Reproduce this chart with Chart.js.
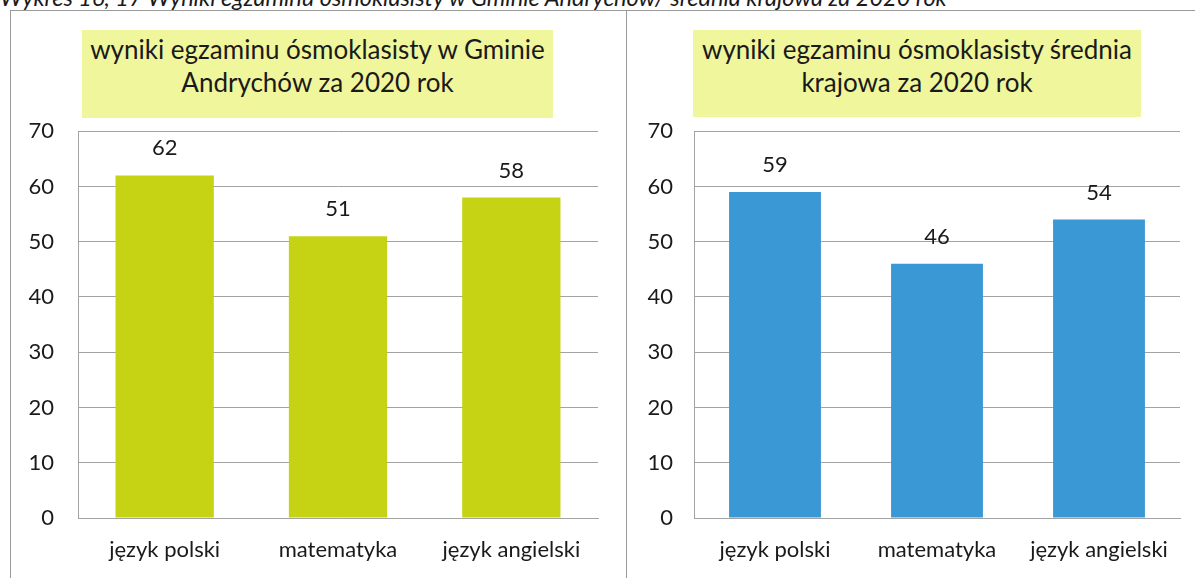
<!DOCTYPE html>
<html>
<head>
<meta charset="utf-8">
<script src="https://cdn.jsdelivr.net/npm/chart.js@4"></script>
<style>
  body { margin: 0; background: #fff; width: 1195px; height: 578px; overflow: hidden; position: relative; font-family: Lato, "Open Sans", sans-serif; color: #1a1a1a; }
  #caption { position: absolute; left: 0; top: -15px; font-style: italic; font-size: 23.5px; line-height: 24px; white-space: nowrap; }
  .line { position: absolute; background: #9a9a9a; }
  .title { position: absolute; background: #f0f69c; font-size: 26px; line-height: 33px; text-align: center; box-sizing: border-box; padding-top: 3px; }
  .wrap { position: absolute; }
</style>
</head>
<body>
<div id="caption">Wykres 16, 17 Wyniki egzaminu ósmoklasisty w Gminie Andrychów/ średnia krajowa za 2020 rok</div>
<div class="line" style="left:10px; top:10px; width:1185px; height:1px;"></div>
<div class="line" style="left:10px; top:10px; width:1px; height:568px;"></div>
<div class="line" style="left:626px; top:10px; width:1px; height:568px;"></div>

<div class="title" style="left:82px; top:30px; width:471px; height:88px;">wyniki egzaminu ósmoklasisty w Gminie<br>Andrychów za 2020 rok</div>
<div class="title" style="left:693px; top:30px; width:448px; height:87px;">wyniki egzaminu ósmoklasisty średnia<br>krajowa za 2020 rok</div>

<div class="wrap" style="left:10px; top:94px; width:600px; height:484px;"><canvas id="chartGmina"></canvas></div>
<div class="wrap" style="left:630px; top:97px; width:565px; height:481px;"><canvas id="chartKraj"></canvas></div>

<script>
const subjects = ['język polski', 'matematyka', 'język angielski'];
const gminaScores = [62, 51, 58];
const krajScores = [59, 46, 54];
const yTicks = [0, 10, 20, 30, 40, 50, 60, 70];

const FONT = 'Lato, "Open Sans", sans-serif';
const TEXT = '#1a1a1a';
const GRID = '#a3a3a3';

// value labels above the bars
const barLabels = {
    id: 'barLabels',
    afterDatasetsDraw(chart) {
        const ctx = chart.ctx;
        const meta = chart.getDatasetMeta(0);
        ctx.save();
        ctx.font = '22px ' + FONT;
        ctx.fillStyle = TEXT;
        ctx.textAlign = 'center';
        ctx.textBaseline = 'middle';
        meta.data.forEach((bar, i) => {
            ctx.fillText(chart.data.datasets[0].data[i], bar.x, bar.y - 27);
        });
        ctx.restore();
    }
};

function makeChart(id, values, color, yWidth, rightPad, labelPad) {
    const ctx = document.getElementById(id).getContext('2d');
    return new Chart(ctx, {
        type: 'bar',
        data: {
            labels: subjects,
            datasets: [{
                data: values,
                backgroundColor: color,
                borderWidth: 0,
                categoryPercentage: 1,
                barPercentage: 0.567
            }]
        },
        options: {
            responsive: true,
            maintainAspectRatio: false,
            animation: false,
            layout: { padding: { top: 11, right: rightPad, left: 0, bottom: 0 } },
            plugins: { legend: { display: false }, tooltip: { enabled: false } },
            scales: {
                x: {
                    grid: { display: false, drawTicks: false },
                    border: { color: GRID, width: 1 },
                    ticks: { color: TEXT, font: { family: FONT, size: 22 }, padding: 19, maxRotation: 0 },
                    afterFit(scale) { scale.height = 60; }
                },
                y: {
                    min: 0,
                    max: 70,
                    afterBuildTicks(scale) { scale.ticks = yTicks.map(v => ({ value: v })); },
                    grid: { color: GRID, lineWidth: 1, drawTicks: false },
                    border: { color: GRID, width: 1 },
                    ticks: { color: TEXT, font: { family: FONT, size: 22 }, padding: labelPad },
                    afterFit(scale) { scale.width = yWidth; }
                }
            }
        },
        plugins: [barLabels]
    });
}

makeChart('chartGmina', gminaScores, '#c5d314', 68, 12, 24);
makeChart('chartKraj', krajScores, '#3a98d4', 64, 15, 21);
</script>
</body>
</html>
